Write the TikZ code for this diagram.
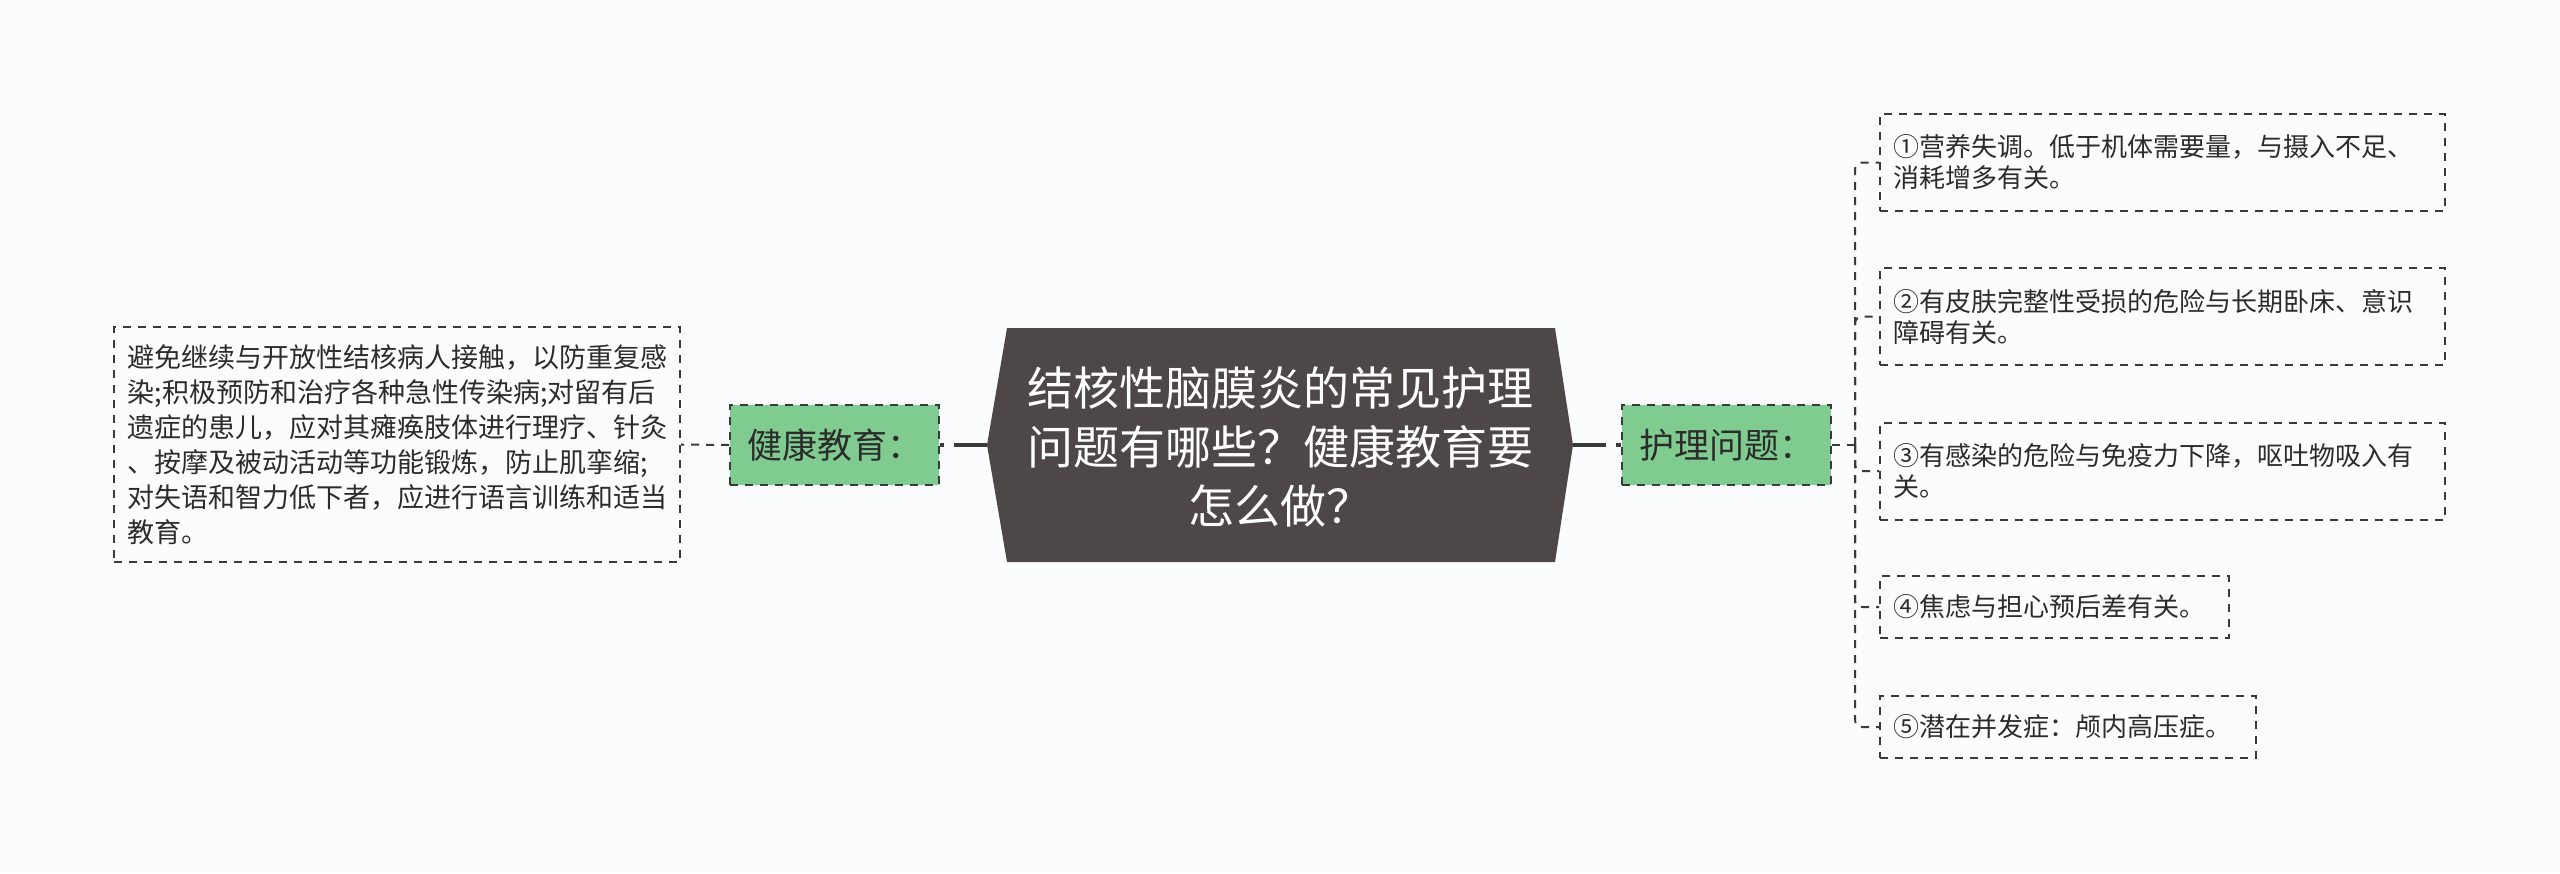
\documentclass[tikz,border=0pt]{standalone}
\usepackage{fontspec}
\newfontfamily\cjk{Noto Sans CJK SC}
\definecolor{bgc}{HTML}{FAFCFD}
\definecolor{linec}{HTML}{3A3A3A}
\definecolor{txt}{HTML}{2C2C2C}
\definecolor{hexc}{HTML}{4D4847}
\definecolor{greenc}{HTML}{80CC90}
\begin{document}
\begin{tikzpicture}[x=1pt,y=-1pt,
  dline/.style={draw=linec, line width=2pt, dash pattern=on 8pt off 7pt},
  box/.style={dline, inner ysep=0pt, align=left, text=txt,
    font=\cjk\fontsize{26}{31}\selectfont},
  greenbox/.style={dline, fill=greenc, inner ysep=0pt, inner xsep=17pt,
    text width=175pt, minimum height=80pt, align=left, text=txt,
    font=\cjk\fontsize{35}{40}\selectfont},
  cconn/.style={draw=linec, line width=3.5pt, dash pattern=on 33pt off 10pt on 12pt off 0pt},
  childbox/.style={box, inner xsep=13pt, text width=539pt, minimum height=97pt}
]
\useasboundingbox (0,0) rectangle (2560,873);
\fill[bgc] (0,0) rectangle (2560,873);

% central hexagon
\fill[hexc] (1007,328) -- (1555,328) -- (1573,445) -- (1555,562) -- (1007,562) -- (987,445) -- cycle;
\coordinate (cl) at (987,445);
\coordinate (cr) at (1573,445);
\node[text=white, align=center, inner sep=0pt, font=\cjk\fontsize{46}{59}\selectfont] (title) at (1280,447)
  {结核性脑膜炎的常见护理\\问题有哪些？健康教育要\\怎么做？};

% left branch
\node[greenbox] (health) at (834.5,445) {健康教育：};
\node[box, inner xsep=13.5pt, text width=539pt, minimum height=235pt,
  font=\cjk\fontsize{27}{35}\selectfont] (edu) at (397,444.5)
  {避免继续与开放性结核病人接触，以防重复感\\染;积极预防和治疗各种急性传染病;对留有后\\遗症的患儿，应对其瘫痪肢体进行理疗、针灸\\、按摩及被动活动等功能锻炼，防止肌挛缩;\\对失语和智力低下者，应进行语言训练和适当\\教育。};

\draw[cconn] (cl) -- (health.east);
\draw[dline] (health.west) -- (edu.east);

% right branch
\node[greenbox] (nursing) at (1726.5,445) {护理问题：};
\draw[cconn] (cr) -- (nursing.west);

\node[childbox] (c1) at (2162.5,162.5) {①营养失调。低于机体需要量，与摄入不足、\\消耗增多有关。};
\node[childbox] (c2) at (2162.5,316.5) {②有皮肤完整性受损的危险与长期卧床、意识\\障碍有关。};
\node[childbox] (c3) at (2162.5,471) {③有感染的危险与免疫力下降，呕吐物吸入有\\关。};
\node[box, inner xsep=13pt, text width=323pt, minimum height=62pt] (c4) at (2054.5,607) {④焦虑与担心预后差有关。};
\node[box, inner xsep=13pt, text width=350pt, minimum height=62pt] (c5) at (2068,727) {⑤潜在并发症：颅内高压症。};

\draw[dline] (nursing.east) -- ++(23,0) coordinate (j);
\foreach \c in {c1,c2,c3,c4,c5}{
  \draw[dline, rounded corners=7pt] (j) |- (\c.west);
}
\end{tikzpicture}
\end{document}
